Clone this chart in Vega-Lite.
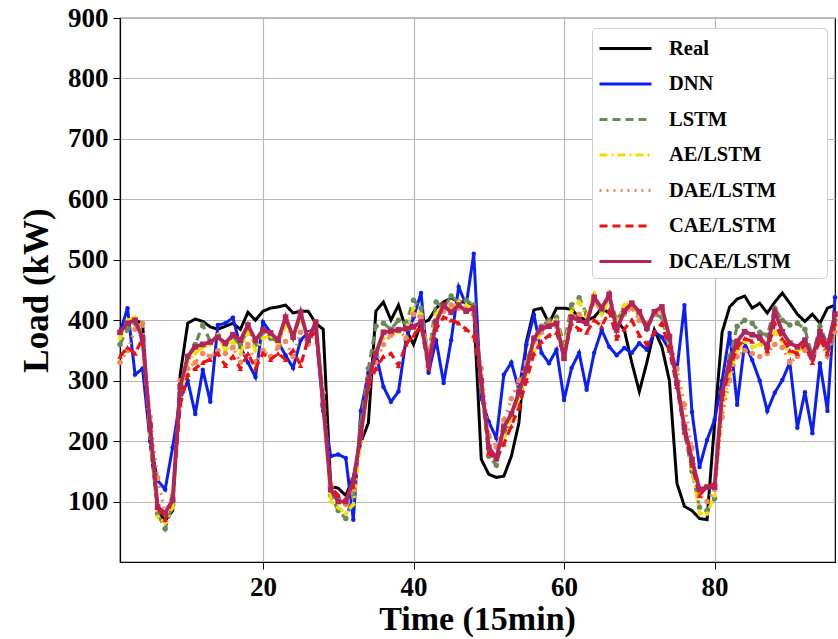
{
  "$schema": "https://vega.github.io/schema/vega-lite/v6.json",
  "width": 715,
  "height": 544,
  "autosize": {"type": "none"},
  "padding": {"left": 120, "top": 18, "right": 3, "bottom": 77},
  "background": "white",
  "config": {
    "font": "Liberation Serif",
    "view": {"stroke": "#000000", "strokeWidth": 1.2},
    "axis": {
      "labelFont": "Liberation Serif", "labelFontWeight": "bold", "labelFontSize": 27, "labelColor": "#000000",
      "titleFont": "Liberation Serif", "titleFontWeight": "bold", "titleFontSize": 35, "titleColor": "#000000",
      "domainColor": "#000000", "domainWidth": 1.2, "tickColor": "#000000", "tickSize": 7, "labelPadding": 5,
      "gridColor": "#b8b8b8", "gridWidth": 1.2
    },
    "legend": {
      "labelFont": "Liberation Serif", "labelFontWeight": "bold", "labelFontSize": 20.5, "labelColor": "#000000",
      "fillColor": "white", "strokeColor": "#d0d0d0", "cornerRadius": 4, "padding": 6, "labelLimit": 300,
      "symbolType": "M-1,0H3", "symbolSize": 676, "symbolStrokeWidth": 3, "rowPadding": 10.5, "labelOffset": 42
    }
  },
  "data": {"values": [
    {"t":1,"Real":385,"DNN":380,"LSTM":360,"AE/LSTM":370,"DAE/LSTM":330,"CAE/LSTM":340,"DCAE/LSTM":380},
    {"t":2,"Real":395,"DNN":420,"LSTM":385,"AE/LSTM":400,"DAE/LSTM":350,"CAE/LSTM":355,"DCAE/LSTM":395},
    {"t":3,"Real":400,"DNN":310,"LSTM":395,"AE/LSTM":405,"DAE/LSTM":385,"CAE/LSTM":345,"DCAE/LSTM":400},
    {"t":4,"Real":395,"DNN":320,"LSTM":365,"AE/LSTM":370,"DAE/LSTM":395,"CAE/LSTM":370,"DCAE/LSTM":370},
    {"t":5,"Real":200,"DNN":200,"LSTM":230,"AE/LSTM":210,"DAE/LSTM":240,"CAE/LSTM":220,"DCAE/LSTM":225},
    {"t":6,"Real":85,"DNN":135,"LSTM":80,"AE/LSTM":75,"DAE/LSTM":140,"CAE/LSTM":90,"DCAE/LSTM":91},
    {"t":7,"Real":68,"DNN":120,"LSTM":55,"AE/LSTM":65,"DAE/LSTM":80,"CAE/LSTM":70,"DCAE/LSTM":81},
    {"t":8,"Real":85,"DNN":190,"LSTM":95,"AE/LSTM":90,"DAE/LSTM":110,"CAE/LSTM":105,"DCAE/LSTM":103},
    {"t":9,"Real":310,"DNN":270,"LSTM":280,"AE/LSTM":270,"DAE/LSTM":300,"CAE/LSTM":260,"DCAE/LSTM":290},
    {"t":10,"Real":395,"DNN":300,"LSTM":340,"AE/LSTM":330,"DAE/LSTM":320,"CAE/LSTM":310,"DCAE/LSTM":340},
    {"t":11,"Real":402,"DNN":245,"LSTM":360,"AE/LSTM":345,"DAE/LSTM":330,"CAE/LSTM":320,"DCAE/LSTM":356},
    {"t":12,"Real":398,"DNN":318,"LSTM":392,"AE/LSTM":355,"DAE/LSTM":345,"CAE/LSTM":330,"DCAE/LSTM":360},
    {"t":13,"Real":389,"DNN":265,"LSTM":365,"AE/LSTM":360,"DAE/LSTM":340,"CAE/LSTM":335,"DCAE/LSTM":364},
    {"t":14,"Real":385,"DNN":392,"LSTM":375,"AE/LSTM":375,"DAE/LSTM":350,"CAE/LSTM":345,"DCAE/LSTM":372},
    {"t":15,"Real":390,"DNN":395,"LSTM":360,"AE/LSTM":350,"DAE/LSTM":345,"CAE/LSTM":325,"DCAE/LSTM":362},
    {"t":16,"Real":395,"DNN":404,"LSTM":370,"AE/LSTM":365,"DAE/LSTM":355,"CAE/LSTM":340,"DCAE/LSTM":376},
    {"t":17,"Real":385,"DNN":356,"LSTM":360,"AE/LSTM":345,"DAE/LSTM":330,"CAE/LSTM":320,"DCAE/LSTM":367},
    {"t":18,"Real":413,"DNN":330,"LSTM":385,"AE/LSTM":380,"DAE/LSTM":360,"CAE/LSTM":345,"DCAE/LSTM":392},
    {"t":19,"Real":400,"DNN":306,"LSTM":360,"AE/LSTM":350,"DAE/LSTM":330,"CAE/LSTM":320,"DCAE/LSTM":367},
    {"t":20,"Real":415,"DNN":397,"LSTM":380,"AE/LSTM":370,"DAE/LSTM":350,"CAE/LSTM":345,"DCAE/LSTM":384},
    {"t":21,"Real":420,"DNN":380,"LSTM":370,"AE/LSTM":375,"DAE/LSTM":340,"CAE/LSTM":335,"DCAE/LSTM":379},
    {"t":22,"Real":422,"DNN":364,"LSTM":365,"AE/LSTM":360,"DAE/LSTM":355,"CAE/LSTM":345,"DCAE/LSTM":367},
    {"t":23,"Real":425,"DNN":342,"LSTM":395,"AE/LSTM":390,"DAE/LSTM":365,"CAE/LSTM":335,"DCAE/LSTM":405},
    {"t":24,"Real":412,"DNN":321,"LSTM":375,"AE/LSTM":370,"DAE/LSTM":340,"CAE/LSTM":350,"DCAE/LSTM":372},
    {"t":25,"Real":415,"DNN":367,"LSTM":405,"AE/LSTM":400,"DAE/LSTM":380,"CAE/LSTM":325,"DCAE/LSTM":413},
    {"t":26,"Real":415,"DNN":380,"LSTM":370,"AE/LSTM":375,"DAE/LSTM":360,"CAE/LSTM":370,"DCAE/LSTM":367},
    {"t":27,"Real":395,"DNN":387,"LSTM":395,"AE/LSTM":390,"DAE/LSTM":385,"CAE/LSTM":380,"DCAE/LSTM":397},
    {"t":28,"Real":385,"DNN":250,"LSTM":260,"AE/LSTM":265,"DAE/LSTM":280,"CAE/LSTM":270,"DCAE/LSTM":260},
    {"t":29,"Real":125,"DNN":175,"LSTM":110,"AE/LSTM":100,"DAE/LSTM":130,"CAE/LSTM":125,"DCAE/LSTM":120},
    {"t":30,"Real":122,"DNN":178,"LSTM":85,"AE/LSTM":90,"DAE/LSTM":105,"CAE/LSTM":110,"DCAE/LSTM":100},
    {"t":31,"Real":110,"DNN":172,"LSTM":72,"AE/LSTM":80,"DAE/LSTM":95,"CAE/LSTM":105,"DCAE/LSTM":100},
    {"t":32,"Real":140,"DNN":70,"LSTM":110,"AE/LSTM":95,"DAE/LSTM":120,"CAE/LSTM":125,"DCAE/LSTM":135},
    {"t":33,"Real":198,"DNN":250,"LSTM":230,"AE/LSTM":200,"DAE/LSTM":215,"CAE/LSTM":220,"DCAE/LSTM":210},
    {"t":34,"Real":230,"DNN":313,"LSTM":320,"AE/LSTM":290,"DAE/LSTM":300,"CAE/LSTM":290,"DCAE/LSTM":300},
    {"t":35,"Real":415,"DNN":345,"LSTM":390,"AE/LSTM":350,"DAE/LSTM":330,"CAE/LSTM":320,"DCAE/LSTM":345},
    {"t":36,"Real":430,"DNN":290,"LSTM":395,"AE/LSTM":370,"DAE/LSTM":360,"CAE/LSTM":340,"DCAE/LSTM":380},
    {"t":37,"Real":400,"DNN":265,"LSTM":385,"AE/LSTM":375,"DAE/LSTM":375,"CAE/LSTM":345,"DCAE/LSTM":382},
    {"t":38,"Real":425,"DNN":282,"LSTM":400,"AE/LSTM":380,"DAE/LSTM":385,"CAE/LSTM":325,"DCAE/LSTM":384},
    {"t":39,"Real":385,"DNN":367,"LSTM":395,"AE/LSTM":385,"DAE/LSTM":370,"CAE/LSTM":360,"DCAE/LSTM":386},
    {"t":40,"Real":360,"DNN":405,"LSTM":433,"AE/LSTM":420,"DAE/LSTM":410,"CAE/LSTM":375,"DCAE/LSTM":389},
    {"t":41,"Real":395,"DNN":445,"LSTM":420,"AE/LSTM":410,"DAE/LSTM":405,"CAE/LSTM":390,"DCAE/LSTM":397},
    {"t":42,"Real":400,"DNN":313,"LSTM":340,"AE/LSTM":335,"DAE/LSTM":345,"CAE/LSTM":320,"DCAE/LSTM":326},
    {"t":43,"Real":420,"DNN":367,"LSTM":430,"AE/LSTM":410,"DAE/LSTM":400,"CAE/LSTM":385,"DCAE/LSTM":397},
    {"t":44,"Real":430,"DNN":296,"LSTM":420,"AE/LSTM":425,"DAE/LSTM":415,"CAE/LSTM":405,"DCAE/LSTM":425},
    {"t":45,"Real":437,"DNN":367,"LSTM":440,"AE/LSTM":420,"DAE/LSTM":425,"CAE/LSTM":400,"DCAE/LSTM":413},
    {"t":46,"Real":430,"DNN":455,"LSTM":430,"AE/LSTM":430,"DAE/LSTM":420,"CAE/LSTM":395,"DCAE/LSTM":425},
    {"t":47,"Real":430,"DNN":425,"LSTM":433,"AE/LSTM":425,"DAE/LSTM":415,"CAE/LSTM":385,"DCAE/LSTM":415},
    {"t":48,"Real":420,"DNN":510,"LSTM":425,"AE/LSTM":420,"DAE/LSTM":410,"CAE/LSTM":375,"DCAE/LSTM":420},
    {"t":49,"Real":170,"DNN":270,"LSTM":290,"AE/LSTM":295,"DAE/LSTM":320,"CAE/LSTM":300,"DCAE/LSTM":300},
    {"t":50,"Real":145,"DNN":232,"LSTM":175,"AE/LSTM":180,"DAE/LSTM":210,"CAE/LSTM":180,"DCAE/LSTM":190},
    {"t":51,"Real":140,"DNN":205,"LSTM":160,"AE/LSTM":175,"DAE/LSTM":190,"CAE/LSTM":170,"DCAE/LSTM":172},
    {"t":52,"Real":142,"DNN":310,"LSTM":210,"AE/LSTM":205,"DAE/LSTM":235,"CAE/LSTM":195,"DCAE/LSTM":223},
    {"t":53,"Real":175,"DNN":330,"LSTM":240,"AE/LSTM":240,"DAE/LSTM":270,"CAE/LSTM":225,"DCAE/LSTM":245},
    {"t":54,"Real":230,"DNN":285,"LSTM":285,"AE/LSTM":270,"DAE/LSTM":300,"CAE/LSTM":255,"DCAE/LSTM":280},
    {"t":55,"Real":365,"DNN":360,"LSTM":330,"AE/LSTM":310,"DAE/LSTM":330,"CAE/LSTM":300,"DCAE/LSTM":318},
    {"t":56,"Real":417,"DNN":409,"LSTM":370,"AE/LSTM":350,"DAE/LSTM":365,"CAE/LSTM":345,"DCAE/LSTM":370},
    {"t":57,"Real":420,"DNN":346,"LSTM":390,"AE/LSTM":385,"DAE/LSTM":380,"CAE/LSTM":365,"DCAE/LSTM":387},
    {"t":58,"Real":395,"DNN":329,"LSTM":400,"AE/LSTM":390,"DAE/LSTM":395,"CAE/LSTM":375,"DCAE/LSTM":390},
    {"t":59,"Real":420,"DNN":351,"LSTM":405,"AE/LSTM":400,"DAE/LSTM":390,"CAE/LSTM":380,"DCAE/LSTM":395},
    {"t":60,"Real":420,"DNN":268,"LSTM":360,"AE/LSTM":350,"DAE/LSTM":345,"CAE/LSTM":340,"DCAE/LSTM":337},
    {"t":61,"Real":418,"DNN":321,"LSTM":425,"AE/LSTM":415,"DAE/LSTM":405,"CAE/LSTM":395,"DCAE/LSTM":405},
    {"t":62,"Real":405,"DNN":346,"LSTM":437,"AE/LSTM":430,"DAE/LSTM":410,"CAE/LSTM":385,"DCAE/LSTM":400},
    {"t":63,"Real":400,"DNN":285,"LSTM":410,"AE/LSTM":405,"DAE/LSTM":395,"CAE/LSTM":380,"DCAE/LSTM":395},
    {"t":64,"Real":405,"DNN":346,"LSTM":430,"AE/LSTM":445,"DAE/LSTM":430,"CAE/LSTM":400,"DCAE/LSTM":438},
    {"t":65,"Real":420,"DNN":384,"LSTM":415,"AE/LSTM":410,"DAE/LSTM":420,"CAE/LSTM":390,"DCAE/LSTM":420},
    {"t":66,"Real":412,"DNN":356,"LSTM":440,"AE/LSTM":435,"DAE/LSTM":445,"CAE/LSTM":415,"DCAE/LSTM":442},
    {"t":67,"Real":400,"DNN":342,"LSTM":400,"AE/LSTM":395,"DAE/LSTM":390,"CAE/LSTM":370,"DCAE/LSTM":384},
    {"t":68,"Real":384,"DNN":354,"LSTM":420,"AE/LSTM":425,"DAE/LSTM":410,"CAE/LSTM":385,"DCAE/LSTM":415},
    {"t":69,"Real":330,"DNN":346,"LSTM":425,"AE/LSTM":430,"DAE/LSTM":420,"CAE/LSTM":400,"DCAE/LSTM":428},
    {"t":70,"Real":282,"DNN":362,"LSTM":410,"AE/LSTM":405,"DAE/LSTM":400,"CAE/LSTM":375,"DCAE/LSTM":414},
    {"t":71,"Real":330,"DNN":351,"LSTM":385,"AE/LSTM":390,"DAE/LSTM":395,"CAE/LSTM":360,"DCAE/LSTM":387},
    {"t":72,"Real":384,"DNN":381,"LSTM":410,"AE/LSTM":415,"DAE/LSTM":410,"CAE/LSTM":380,"DCAE/LSTM":414},
    {"t":73,"Real":356,"DNN":372,"LSTM":405,"AE/LSTM":420,"DAE/LSTM":415,"CAE/LSTM":395,"DCAE/LSTM":422},
    {"t":74,"Real":300,"DNN":351,"LSTM":355,"AE/LSTM":360,"DAE/LSTM":375,"CAE/LSTM":350,"DCAE/LSTM":372},
    {"t":75,"Real":130,"DNN":318,"LSTM":300,"AE/LSTM":310,"DAE/LSTM":320,"CAE/LSTM":290,"DCAE/LSTM":296},
    {"t":76,"Real":92,"DNN":425,"LSTM":215,"AE/LSTM":230,"DAE/LSTM":260,"CAE/LSTM":215,"DCAE/LSTM":223},
    {"t":77,"Real":85,"DNN":248,"LSTM":150,"AE/LSTM":155,"DAE/LSTM":190,"CAE/LSTM":160,"DCAE/LSTM":169},
    {"t":78,"Real":72,"DNN":157,"LSTM":90,"AE/LSTM":80,"DAE/LSTM":110,"CAE/LSTM":110,"DCAE/LSTM":120},
    {"t":79,"Real":70,"DNN":202,"LSTM":85,"AE/LSTM":80,"DAE/LSTM":100,"CAE/LSTM":125,"DCAE/LSTM":124},
    {"t":80,"Real":230,"DNN":235,"LSTM":105,"AE/LSTM":110,"DAE/LSTM":120,"CAE/LSTM":130,"DCAE/LSTM":124},
    {"t":81,"Real":380,"DNN":300,"LSTM":280,"AE/LSTM":250,"DAE/LSTM":240,"CAE/LSTM":270,"DCAE/LSTM":280},
    {"t":82,"Real":422,"DNN":379,"LSTM":340,"AE/LSTM":310,"DAE/LSTM":300,"CAE/LSTM":320,"DCAE/LSTM":330},
    {"t":83,"Real":435,"DNN":260,"LSTM":390,"AE/LSTM":350,"DAE/LSTM":340,"CAE/LSTM":355,"DCAE/LSTM":365},
    {"t":84,"Real":440,"DNN":362,"LSTM":400,"AE/LSTM":365,"DAE/LSTM":350,"CAE/LSTM":370,"DCAE/LSTM":381},
    {"t":85,"Real":420,"DNN":334,"LSTM":395,"AE/LSTM":355,"DAE/LSTM":345,"CAE/LSTM":365,"DCAE/LSTM":376},
    {"t":86,"Real":428,"DNN":300,"LSTM":380,"AE/LSTM":360,"DAE/LSTM":340,"CAE/LSTM":370,"DCAE/LSTM":372},
    {"t":87,"Real":412,"DNN":250,"LSTM":375,"AE/LSTM":350,"DAE/LSTM":345,"CAE/LSTM":350,"DCAE/LSTM":356},
    {"t":88,"Real":430,"DNN":280,"LSTM":420,"AE/LSTM":380,"DAE/LSTM":360,"CAE/LSTM":395,"DCAE/LSTM":414},
    {"t":89,"Real":445,"DNN":301,"LSTM":400,"AE/LSTM":365,"DAE/LSTM":355,"CAE/LSTM":370,"DCAE/LSTM":381},
    {"t":90,"Real":428,"DNN":330,"LSTM":392,"AE/LSTM":345,"DAE/LSTM":330,"CAE/LSTM":350,"DCAE/LSTM":362},
    {"t":91,"Real":410,"DNN":222,"LSTM":395,"AE/LSTM":350,"DAE/LSTM":340,"CAE/LSTM":345,"DCAE/LSTM":356},
    {"t":92,"Real":398,"DNN":281,"LSTM":385,"AE/LSTM":355,"DAE/LSTM":350,"CAE/LSTM":360,"DCAE/LSTM":367},
    {"t":93,"Real":410,"DNN":213,"LSTM":340,"AE/LSTM":340,"DAE/LSTM":335,"CAE/LSTM":330,"DCAE/LSTM":339},
    {"t":94,"Real":395,"DNN":329,"LSTM":390,"AE/LSTM":375,"DAE/LSTM":365,"CAE/LSTM":370,"DCAE/LSTM":381},
    {"t":95,"Real":420,"DNN":250,"LSTM":360,"AE/LSTM":345,"DAE/LSTM":340,"CAE/LSTM":345,"DCAE/LSTM":356},
    {"t":96,"Real":425,"DNN":438,"LSTM":400,"AE/LSTM":390,"DAE/LSTM":380,"CAE/LSTM":395,"DCAE/LSTM":410}
  ]},
  "transform": [
    {"fold": ["Real", "DNN", "LSTM", "AE/LSTM", "DAE/LSTM", "CAE/LSTM", "DCAE/LSTM"], "as": ["model", "load"]}
  ],
  "encoding": {
    "x": {"field": "t", "type": "quantitative", "title": "Time (15min)",
      "scale": {"domain": [1, 96], "nice": false, "zero": false},
      "axis": {"values": [20, 40, 60, 80], "grid": true, "titleX": 357, "titleY": 57, "titleBaseline": "middle", "titleFontSize": 34}},
    "y": {"field": "load", "type": "quantitative", "title": "Load (kW)",
      "scale": {"domain": [0, 900], "nice": false},
      "axis": {"values": [100, 200, 300, 400, 500, 600, 700, 800, 900], "grid": true, "titleX": -84, "titleY": 272, "titleBaseline": "middle", "titleAngle": -90, "titleAlign": "center"}},
    "color": {"field": "model", "type": "nominal",
      "scale": {"domain": ["Real", "DNN", "LSTM", "AE/LSTM", "DAE/LSTM", "CAE/LSTM", "DCAE/LSTM"],
        "range": ["#000000", "#0a1ef5", "#6b8a5a", "#f2e000", "#ee8a5c", "#f01010", "#b3245a"]},
      "legend": {"title": null, "orient": "none", "legendX": 472, "legendY": 10, "labelExpr": "datum.label + '\u2800\u2800'"}},
    "strokeDash": {"field": "model", "type": "nominal",
      "scale": {"domain": ["Real", "DNN", "LSTM", "AE/LSTM", "DAE/LSTM", "CAE/LSTM", "DCAE/LSTM"],
        "range": [[1, 0], [1, 0], [8, 5], [8, 4, 2, 4], [2, 5], [8, 5], [1, 0]]},
      "legend": {"title": null, "orient": "none", "legendX": 472, "legendY": 10, "labelExpr": "datum.label + '\u2800\u2800'"}}
  },
  "layer": [
    {"transform": [{"filter": "datum.model === 'Real'"}], "mark": {"type": "line", "strokeWidth": 3}},
    {"transform": [{"filter": "datum.model === 'DNN'"}], "mark": {"type": "line", "strokeWidth": 3, "point": {"filled": true, "size": 20}}},
    {"transform": [{"filter": "datum.model === 'LSTM'"}], "mark": {"type": "line", "strokeWidth": 3.2, "point": {"filled": true, "size": 30}}},
    {"transform": [{"filter": "datum.model === 'AE/LSTM'"}], "mark": {"type": "line", "strokeWidth": 3.2, "point": {"filled": true, "size": 30, "shape": "diamond"}}},
    {"transform": [{"filter": "datum.model === 'DAE/LSTM'"}], "mark": {"type": "line", "strokeWidth": 3.2, "point": {"filled": true, "size": 30}}},
    {"transform": [{"filter": "datum.model === 'CAE/LSTM'"}], "mark": {"type": "line", "strokeWidth": 3.2, "point": {"filled": true, "size": 30, "shape": "triangle-up"}}},
    {"transform": [{"filter": "datum.model === 'DCAE/LSTM'"}], "mark": {"type": "line", "strokeWidth": 3.8, "point": {"filled": true, "size": 32, "shape": "square"}}}
  ]
}
